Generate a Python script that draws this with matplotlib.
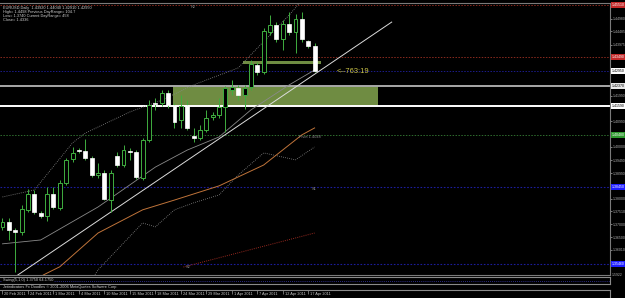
import numpy as np
import matplotlib.pyplot as plt

plt.rcParams['font.family'] = ['Liberation Sans', 'DejaVu Sans']

# EURUSD daily bars (bar 0 = 20 Feb 2011)
opens = [1.3690, 1.3709, 1.3678, 1.3670, 1.3756, 1.3818, 1.3744, 1.3732, 1.3818, 1.3763,
         1.3860, 1.3953, 1.3988, 1.3984, 1.3957, 1.3891, 1.3899, 1.3794, 1.3965, 1.3930,
         1.3984, 1.3981, 1.3880, 1.4027, 1.4171, 1.4171, 1.4210, 1.4163, 1.4105, 1.4163,
         1.4043, 1.4035, 1.4066, 1.4116, 1.4124, 1.4155, 1.4221, 1.4229, 1.4202, 1.4233,
         1.4318, 1.4291, 1.4446, 1.4473, 1.4419, 1.4477, 1.4446, 1.4497, 1.4411, 1.4392]
highs = [1.3725, 1.3725, 1.3686, 1.3775, 1.3837, 1.3833, 1.3752, 1.3845, 1.3845, 1.3872,
         1.3957, 1.4000, 1.3996, 1.4031, 1.3965, 1.3938, 1.3911, 1.3911, 1.3981, 1.4008,
         1.3996, 1.3988, 1.4035, 1.4182, 1.4190, 1.4221, 1.4221, 1.4171, 1.4202, 1.4182,
         1.4074, 1.4085, 1.4144, 1.4136, 1.4190, 1.4237, 1.4260, 1.4241, 1.4241, 1.4338,
         1.4330, 1.4462, 1.4512, 1.4485, 1.4493, 1.4524, 1.4516, 1.4524, 1.4415, 1.4404]
lows = [1.3678, 1.3639, 1.3515, 1.3659, 1.3748, 1.3740, 1.3725, 1.3713, 1.3759, 1.3756,
        1.3853, 1.3942, 1.3977, 1.3950, 1.3884, 1.3880, 1.3794, 1.3748, 1.3922, 1.3922,
        1.3950, 1.3876, 1.3872, 1.4019, 1.4144, 1.4159, 1.4151, 1.4074, 1.4074, 1.4066,
        1.4019, 1.4027, 1.4058, 1.4105, 1.4113, 1.4058, 1.4202, 1.4182, 1.4147, 1.4221,
        1.4279, 1.4283, 1.4435, 1.4407, 1.4376, 1.4435, 1.4365, 1.4407, 1.4384, 1.4291]
closes = [1.3709, 1.3678, 1.3670, 1.3759, 1.3818, 1.3748, 1.3732, 1.3818, 1.3767, 1.3860,
          1.3950, 1.3977, 1.3984, 1.3957, 1.3891, 1.3899, 1.3798, 1.3899, 1.3930, 1.3988,
          1.3981, 1.3884, 1.4027, 1.4163, 1.4167, 1.4210, 1.4163, 1.4097, 1.4159, 1.4074,
          1.4035, 1.4066, 1.4113, 1.4124, 1.4155, 1.4229, 1.4233, 1.4202, 1.4229, 1.4322,
          1.4291, 1.4450, 1.4473, 1.4419, 1.4477, 1.4446, 1.4497, 1.4419, 1.4392, 1.4295]

date_bars = [0, 4, 8, 12, 16, 20, 24, 28, 32, 36, 40, 44, 48]
date_labels = ['20 Feb 2011', '24 Feb 2011', '1 Mar 2011', '4 Mar 2011', '10 Mar 2011',
               '15 Mar 2011', '18 Mar 2011', '24 Mar 2011', '29 Mar 2011', '1 Apr 2011',
               '7 Apr 2011', '12 Apr 2011', '17 Apr 2011']

# indicator curves (bar index, price)
ma_grey_x = [0, 6, 15, 20, 24, 29, 34, 39, 45, 49]
ma_grey_y = [1.3624, 1.3639, 1.3767, 1.3853, 1.3922, 1.3988, 1.4039, 1.4144, 1.4241, 1.4299]
band_up_x = [0, 5, 11, 13, 20, 25, 30, 37, 45, 47]
band_up_y = [1.3806, 1.3833, 1.4016, 1.4054, 1.4136, 1.4182, 1.4241, 1.4307, 1.4512, 1.4570]
band_lo_x = [14, 15, 22, 24, 27, 30, 34, 37, 41, 46, 49]
band_lo_y = [1.3484, 1.3523, 1.3705, 1.3690, 1.3756, 1.3783, 1.3814, 1.3891, 1.3977, 1.3950, 1.4000]
ma_orange_x = [6.4, 9, 15, 22, 27, 34, 41, 47, 49]
ma_orange_y = [1.3503, 1.3535, 1.3666, 1.3756, 1.3794, 1.3849, 1.3930, 1.4047, 1.4074]
ma_red_x = [28.4, 49]
ma_red_y = [1.3534, 1.3666]
trend_x = [2.4, 61.1]
trend_y = [1.3503, 1.4485]

# pivot levels
r2, r1, pivot, s1, s2 = 1.4551, 1.4349, 1.4047, 1.3845, 1.3546
bid_line = 1.4295
zone_top, zone_bot = 1.4237, 1.4159
zone_x = [26.8, 59.0]
strip_top, strip_bot = 1.4334, 1.4322
strip_x = [37.8, 50.0]

price_ticks = [1.44980, 1.44485, 1.43975, 1.41990, 1.40990, 1.40000, 1.39490,
               1.38990, 1.38000, 1.37510, 1.37000, 1.36500, 1.36010]

W, H = 625, 298
fig = plt.figure(figsize=(W / 100, H / 100), dpi=100, facecolor='black')

def fy(px):
    return 1 - px / H

ax = fig.add_axes([0, fy(275), 610 / W, 272 / H], facecolor='black')
ax.set_xlim(-0.39, 95.37)
ax.set_ylim(1.3503, 1.4559)

green = '#3fae3f'
bar_x = np.arange(len(opens))

# zones
ax.fill_between(zone_x, zone_bot, zone_top, color='#6f8c42', lw=0, zorder=1)
ax.fill_between(strip_x, strip_bot, strip_top, color='#6f8c42', lw=0, zorder=1)

# horizontal levels
ax.axhline(r2, color='#8b2a1e', lw=0.7, ls=(0, (1.5, 1.5)), zorder=1)
ax.axhline(r1, color='#8b2a1e', lw=0.7, ls=(0, (1.5, 1.5)), zorder=1)
ax.axhline(bid_line, color='#1c1c8c', lw=0.7, ls=(0, (1.5, 1.5)), zorder=1)
ax.axhline(pivot, color='#2f6e2f', lw=0.7, ls=(0, (1.5, 1.5)), zorder=1)
ax.axhline(s1, color='#1c1c9c', lw=0.8, ls=(0, (1.5, 1.5)), zorder=1)
ax.axhline(s2, color='#1c1c9c', lw=0.8, ls=(0, (1.5, 1.5)), zorder=1)
ax.axhline(zone_top, color='#a8a8a8', lw=1.4, zorder=2)
ax.axhline(zone_bot, color='white', lw=1.4, zorder=2)

# indicators
ax.plot(ma_grey_x, ma_grey_y, color='#8a8a8a', lw=0.6, zorder=2)
ax.plot(band_up_x, band_up_y, color='#8a8a8a', lw=0.6, ls=(0, (1, 1.5)), zorder=2)
ax.plot(band_lo_x, band_lo_y, color='#8a8a8a', lw=0.6, ls=(0, (1, 1.5)), zorder=2)
ax.plot(ma_orange_x, ma_orange_y, color='#c0743a', lw=0.7, zorder=2)
ax.plot(ma_red_x, ma_red_y, color='#9a2a20', lw=0.7, ls=(0, (1, 1.2)), zorder=2)
ax.plot(trend_x, trend_y, color='#dcdcdc', lw=0.7, zorder=3)

# candles
for i in bar_x:
    o, h, l, c = opens[i], highs[i], lows[i], closes[i]
    ax.vlines(i, l, h, color=green, lw=0.7, zorder=4)
    body = max(abs(c - o), 0.00025)
    if c >= o:
        ax.bar(i, body, bottom=o, width=0.62, facecolor='black', edgecolor=green, lw=0.7, zorder=5)
    else:
        ax.bar(i, body, bottom=c, width=0.62, facecolor='white', edgecolor='white', lw=0.5, zorder=5)

# level captions
small = dict(fontsize=2.8, color='#8c8c8c')
ax.text(29.5, r2 - 0.0008, 'R2', ha='left', va='center', **small)
ax.text(46.5, pivot - 0.0010, 'Pivot 1.4048', ha='left', va='center', **small)
ax.text(48.6, s1 - 0.0008, 'S1', ha='left', va='center', **small)
ax.text(28.8, s2 - 0.0010, 'S2', ha='left', va='center', **small)
ax.text(52.4, bid_line, '<--763:19', color='#cfc84a', fontsize=5.4, ha='left', va='center')

# info block
info = ['EURUSD,Daily  1.43920 1.44040 1.42910 1.42950',
        'High= 1.4498 Previous DayRange= 104.7',
        'Low= 1.3740 Current DayRange= 458',
        'Close= 1.4336']
for k, line in enumerate(info):
    ax.text(3 / 610, 1 - (2.5 + 4.2 * k) / 272, line, transform=ax.transAxes,
            color='#d0d0d0', fontsize=2.8, ha='left', va='top')

# price axis
ax.yaxis.tick_right()
ax.set_yticks(price_ticks)
ax.set_yticklabels([f'{t:.5f}' for t in price_ticks])
ax.tick_params(axis='y', colors='#b0b0b0', labelsize=2.5, length=1.2, width=0.5, pad=0.6)
ax.set_xticks([])
ax.spines['left'].set_visible(False)
for side in ['right', 'top', 'bottom']:
    ax.spines[side].set_color('#7a7a7a')
    ax.spines[side].set_linewidth(0.8)

ytr = ax.get_yaxis_transform()
boxes = [(r2, '1.45510', '#c42a2a', 'white'), (r1, '1.43490', '#c42a2a', 'white'),
         (bid_line, '1.42950', 'white', 'black'), (zone_top, '1.42370', '#e8e8e8', 'black'),
         (zone_bot, '1.41590', 'white', 'black'), (pivot, '1.40480', '#2f9a2f', 'white'),
         (s1, '1.38450', '#1e1eff', 'white'), (s2, '1.35460', '#1e1eff', 'white')]
for val, txt, fc, tc in boxes:
    ax.text(1.003, val, txt, transform=ytr, fontsize=2.5, color=tc, ha='left', va='center',
            bbox=dict(boxstyle='square,pad=0.3', fc=fc, ec='none'), clip_on=False)

# swing subwindow
sub = fig.add_axes([0, fy(284), 610 / W, 7 / H], facecolor='black')
sub.set_xlim(ax.get_xlim())
sub.set_ylim(0, 1)
sub.set_xticks([])
sub.set_yticks([])
for side in ['top', 'bottom', 'right']:
    sub.spines[side].set_color('#8a8a8a')
    sub.spines[side].set_linewidth(0.8)
sub.spines['left'].set_visible(False)
sub.axhline(0.5, color='#3a3ab0', lw=0.6, ls=(0, (1, 1.5)))
sub.text(3 / 610, 0.5, 'Swing(5,1,0) 1.3750 64.1750', transform=sub.transAxes,
         color='#d0d0d0', fontsize=2.8, ha='left', va='center',
         bbox=dict(boxstyle='square,pad=0.2', fc='black', ec='none'))
fig.text(612 / W, fy(275), '1.5922', color='#b0b0b0', fontsize=2.5, ha='left', va='center')

fig.text(3 / W, fy(287), 'Jetindicators Fx Doodles \u00a9 2001-2006 MetaQuotes Software Corp.',
         color='#d0d0d0', fontsize=2.8, ha='left', va='center')

# date strip
dax = fig.add_axes([0, 0, 610 / W, 8 / H], facecolor='black')
dax.set_xlim(ax.get_xlim())
dax.set_ylim(0, 1)
dax.set_yticks([])
dax.set_xticks([])
for side in ['left', 'bottom']:
    dax.spines[side].set_visible(False)
for side in ['top', 'right']:
    dax.spines[side].set_color('#8a8a8a')
    dax.spines[side].set_linewidth(0.8)
for b, lab in zip(date_bars, date_labels):
    dax.vlines(b, 0.55, 1.0, color='#9a9a9a', lw=0.5)
    dax.text(b + 0.3, 0.45, lab, color='#c8c8c8', fontsize=2.8, ha='left', va='center')

fig.savefig('out.png', dpi=100, facecolor='black')
